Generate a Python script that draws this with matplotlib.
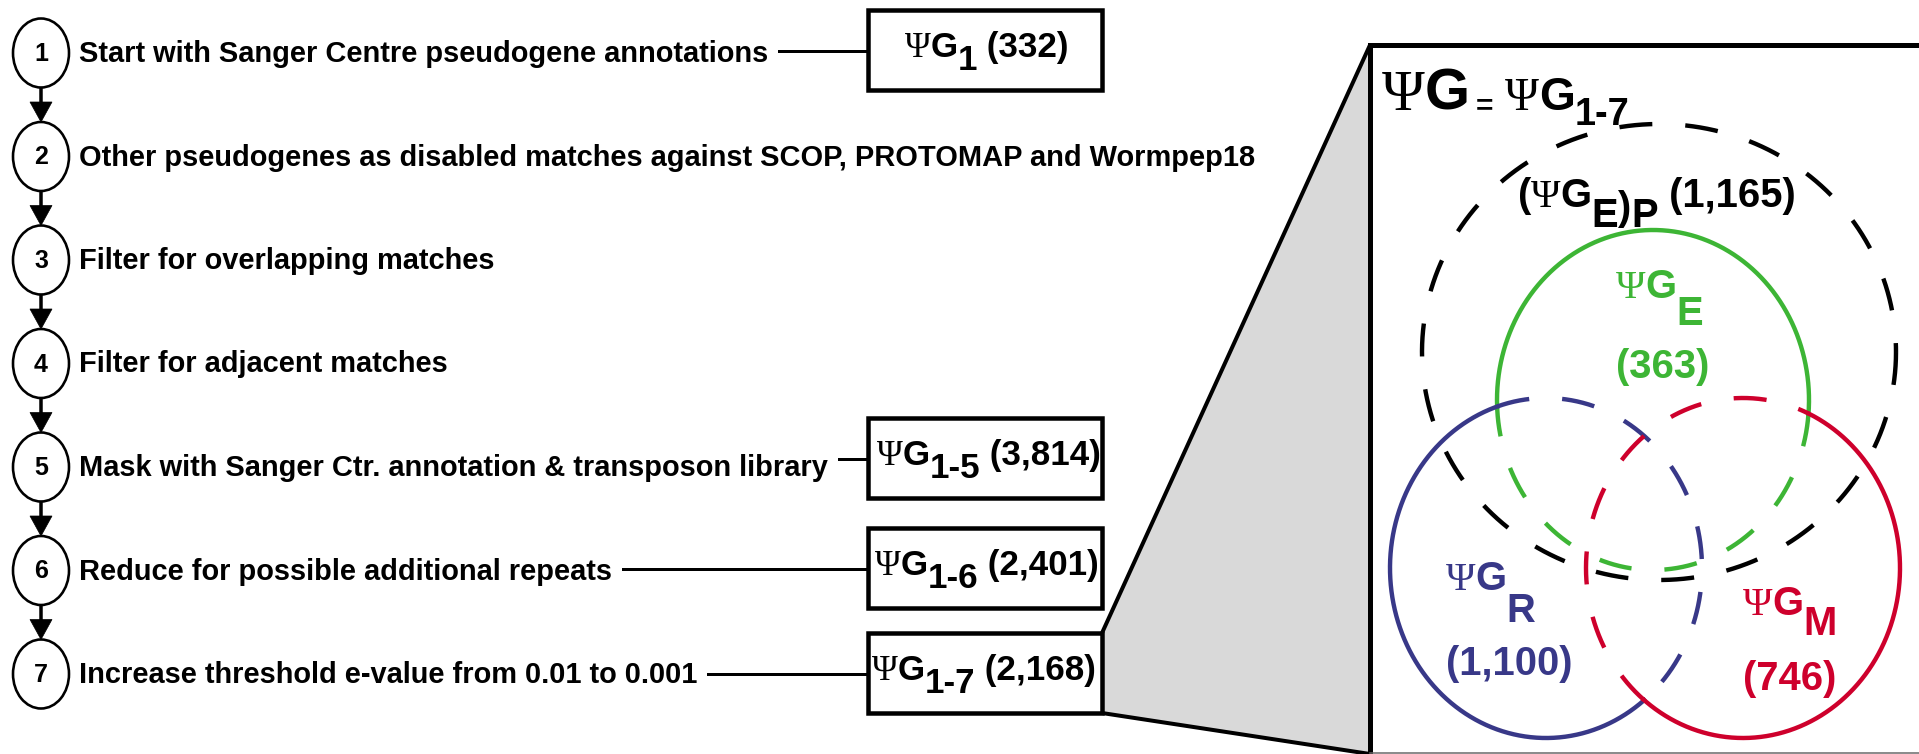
import numpy as np
import matplotlib
matplotlib.use('Agg')
import matplotlib.pyplot as plt
from matplotlib.patches import Ellipse, Rectangle, Polygon

# ---- data ----
step_numbers = ['1', '2', '3', '4', '5', '6', '7']
step_texts = [
    'Start with Sanger Centre pseudogene annotations',
    'Other pseudogenes as disabled matches against SCOP, PROTOMAP and Wormpep18',
    'Filter for overlapping matches',
    'Filter for adjacent matches',
    'Mask with Sanger Ctr. annotation & transposon library',
    'Reduce for possible additional repeats',
    'Increase threshold e-value from 0.01 to 0.001',
]
box_steps = [0, 4, 5, 6]
box_subs = ['1', '1-5', '1-6', '1-7']
box_counts = ['(332)', '(3,814)', '(2,401)', '(2,168)']

venn_names = ['E', 'R', 'M']
venn_counts = ['(363)', '(1,100)', '(746)']
venn_colors = ['#3db535', '#383888', '#ce002c']
outer_count = '(1,165)'

SANS = ['Liberation Sans', 'DejaVu Sans']
SERIF = ['Liberation Serif', 'DejaVu Serif']
PX = 72 / 100  # pixel -> point


def rich(ax, x, y, parts, color='black'):
    # parts: (text, family, size_px, dy_px)
    prev = None
    for s, fam, size, dy in parts:
        kw = dict(family=fam, fontsize=size * PX, fontweight='bold' if fam is SANS else 'normal',
                  color=color, ha='left', va='baseline')
        if prev is None:
            t = ax.text(x, y + dy, s, **kw)
        else:
            t = ax.annotate(s, xy=(1, y + dy), xycoords=(prev, 'data'), **kw)
        prev = t
    return prev


fig = plt.figure(figsize=(19.19, 7.54), dpi=100)
ax = fig.add_axes([0, 0, 1, 1])
ax.set_xlim(0, 1919)
ax.set_ylim(754, 0)
ax.axis('off')

# ---- left flow chart ----
cx = 41
cys = [53 + 103.5 * i for i in range(len(step_numbers))]
circ_w, circ_h = 56, 69
text_objs = []
for i, (num, txt) in enumerate(zip(step_numbers, step_texts)):
    cy = cys[i]
    ax.add_patch(Ellipse((cx, cy), circ_w, circ_h, fill=False, lw=2.6 * PX, ec='black'))
    ax.text(cx, cy + 1, num, family=SANS, fontweight='bold', fontsize=25 * PX, ha='center', va='center')
    text_objs.append(ax.text(79, cy + 9, txt, family=SANS, fontweight='bold', fontsize=29 * PX,
                             ha='left', va='baseline'))
    if i < len(step_numbers) - 1:
        y0 = cy + circ_h / 2
        y1 = cys[i + 1] - circ_h / 2
        ax.plot([cx, cx], [y0, y1 - 18], color='black', lw=3.5 * PX, solid_capstyle='butt')
        ax.add_patch(Polygon([(cx, y1), (cx - 11, y1 - 20), (cx + 11, y1 - 20)], closed=True,
                             fc='black', ec='black', lw=0.5))

# ---- zoom trapezoid and big box ----
ax.add_patch(Polygon([(1102, 633), (1370, 45), (1370, 754), (1102, 713)], closed=True,
                     fc='#d9d9d9', ec='black', lw=4 * PX, joinstyle='miter', zorder=1))
ax.plot([1370, 1919], [45, 45], color='black', lw=5 * PX, solid_capstyle='projecting', zorder=2)
ax.plot([1370, 1370], [45, 754], color='black', lw=5 * PX, solid_capstyle='projecting', zorder=2)
ax.plot([1370, 1919], [753, 753], color='#666666', lw=1.5 * PX, zorder=2)

# ---- result boxes ----
box_centers = [50, 458, 568, 673]
box_text_x = [905, 877, 875, 872]
fig.canvas.draw()
renderer = fig.canvas.get_renderer()
inv = ax.transData.inverted()
for k, step in enumerate(box_steps):
    bc = box_centers[k]
    ax.add_patch(Rectangle((868, bc - 40), 234, 80, fc='white', ec='black', lw=4.5 * PX, zorder=3,
                           joinstyle='miter'))
    bb = text_objs[step].get_window_extent(renderer)
    x_end = inv.transform((bb.x1, bb.y0))[0]
    ax.plot([x_end + 11, 868], [bc + 1, bc + 1], color='black', lw=3 * PX, zorder=2)
    t = rich(ax, box_text_x[k], bc + 7, [('Ψ', SERIF, 35, 0), ('G', SANS, 35, 0),
                                          (box_subs[k], SANS, 35, 13)])
    t.set_zorder(4)
    ax.annotate(' ' + box_counts[k], xy=(1, bc + 7), xycoords=(t, 'data'), family=SANS,
                fontweight='bold', fontsize=35 * PX, ha='left', va='baseline', zorder=4)

# ---- big box title ----
rich(ax, 1382, 110, [('Ψ', SERIF, 58, 0), ('G', SANS, 58, 0)])
ax.text(1476, 114, '=', family=SANS, fontweight='bold', fontsize=30 * PX, ha='left', va='baseline')
rich(ax, 1505, 110, [('Ψ', SERIF, 46, 0), ('G', SANS, 46, 0), ('1-7', SANS, 38, 15)])

# ---- venn diagram ----
ellipses = [(1653, 400, 156, 170), (1546, 568, 156, 170), (1743, 568, 157, 170)]
outer = (1659, 352, 237, 228)
lw_v = 4.4 * PX
dash = (0, (7.5, 7.5))

tt = np.linspace(0, 2 * np.pi, 2881)
ox, oy, orx, ory = outer
ax.plot(ox + orx * np.cos(tt), oy + ory * np.sin(tt), color='black', lw=lw_v, linestyle=dash, zorder=5)

for i, (ex, ey, rx, ry) in enumerate(ellipses):
    xs = ex + rx * np.cos(tt)
    ys = ey + ry * np.sin(tt)
    inside = np.zeros_like(tt, dtype=bool)
    for j, (fx, fy, frx, fry) in enumerate(ellipses):
        if j != i:
            inside |= ((xs - fx) / frx) ** 2 + ((ys - fy) / fry) ** 2 < 1
    # start the path at a solid/dashed transition
    start = np.argmax(inside != inside[0]) if np.any(inside != inside[0]) else 0
    xs, ys, inside = np.roll(xs, -start), np.roll(ys, -start), np.roll(inside, -start)
    xs, ys, inside = np.append(xs, xs[0]), np.append(ys, ys[0]), np.append(inside, inside[0])
    edges = np.flatnonzero(np.diff(inside.astype(int))) + 1
    bounds = [0] + list(edges) + [len(xs) - 1]
    for a, b in zip(bounds[:-1], bounds[1:]):
        seg = slice(a, b + 1)
        ax.plot(xs[seg], ys[seg], color=venn_colors[i], lw=lw_v,
                linestyle=dash if inside[a] else '-', zorder=5)

# outer label
t = rich(ax, 1518, 207, [('(', SANS, 40, 0), ('Ψ', SERIF, 40, 0), ('G', SANS, 40, 0),
                         ('E', SANS, 40, 20), (')', SANS, 40, 13), ('P', SANS, 40, 20)])
ax.annotate(' ' + outer_count, xy=(1, 207), xycoords=(t, 'data'), family=SANS, fontweight='bold',
            fontsize=40 * PX, ha='left', va='baseline')

label_pos = [(1616, 298, 27, 378), (1446, 590, 32, 675), (1743, 615, 20, 690)]
for i, (lx, ly, dy, cy2) in enumerate(label_pos):
    rich(ax, lx, ly, [('Ψ', SERIF, 40, 0), ('G', SANS, 40, 0), (venn_names[i], SANS, 40, dy)],
         color=venn_colors[i])
    ax.text(lx, cy2, venn_counts[i], family=SANS, fontweight='bold', fontsize=40 * PX,
            color=venn_colors[i], ha='left', va='baseline')

fig.savefig('out.png', dpi=100)
